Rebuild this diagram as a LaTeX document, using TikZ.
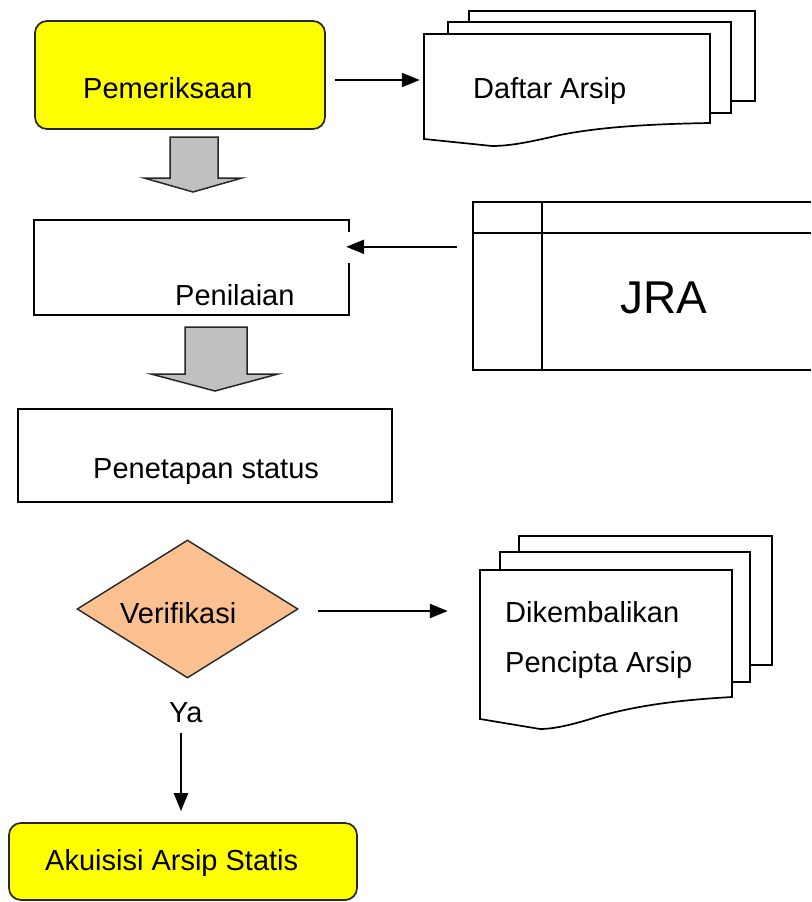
\documentclass[tikz,border=0pt]{standalone}
\usepackage{fontspec}
\setmainfont{Liberation Sans}
\usetikzlibrary{arrows.meta,shapes.geometric,calc}
\definecolor{boxyellow}{RGB}{255,255,0}
\definecolor{blockgray}{RGB}{192,192,192}
\definecolor{peach}{RGB}{250,192,143}
\begin{document}
\begin{tikzpicture}[x=1pt,y=-1pt,
  lbl/.style={font=\fontsize{29}{33}\selectfont, inner sep=0pt, anchor=base west},
  arr/.style={line width=2.2pt, -{Triangle[length=18pt,width=14pt]}},
  outline/.style={line width=1.7pt, line join=miter},
  blockarrow/.style={fill=blockgray, draw=black!85, line width=1.5pt, line join=miter},
  roundbox/.style={rectangle, rounded corners=12pt, draw=black!85, fill=boxyellow, line width=1.7pt, inner sep=0pt},
  area/.style={rectangle, draw=none, inner sep=0pt}]
\useasboundingbox (0,0) rectangle (811,902);

% Pemeriksaan
\node[roundbox, minimum width=290pt, minimum height=108pt] (pem) at (180,75) {};
\node[lbl] (pemt) at (83,98) {Pemeriksaan};

% Daftar Arsip documents
\node[area, minimum width=286pt, minimum height=105pt] (daftar) at (567,86.5) {};
\draw[outline] (469,22) -- (469,11) -- (755,11) -- (755,101) -- (731,101);
\draw[outline] (448,34) -- (448,22) -- (731,22) -- (731,113) -- (710,113);
\draw[outline, fill=white] (424,34) -- (710,34) -- (710,123)
   .. controls (650,124) and (600,127) .. (560,135)
   .. controls (530,142) and (510,146) .. (492,146) -- (424,139) -- cycle;
\node[lbl] (daftart) at (473,98) {Daftar Arsip};
\draw[arr] ($(pem.east)+(9,5)$) -- ($(daftar.west)+(-4,-6.5)$);

% block arrow 1
\draw[blockarrow] (170,137) -- (218,137) -- (218,178) -- (242,178) -- (193,192) -- (144,178) -- (170,178) -- cycle;

% Penilaian
\node[area, minimum width=315pt, minimum height=95pt] (pen) at (191.5,267.5) {};
\draw[outline] ($(pen.north east)+(0,12)$) -- (pen.north east) -- (pen.north west) -- (pen.south west) -- (pen.south east) -- ($(pen.south east)+(0,-52)$);
\node[lbl] (pent) at (175,305) {Penilaian};

% JRA table
\node[area, minimum width=338pt, minimum height=168pt] (jra) at (642,286) {};
\draw[outline] (811,202) -- (473,202) -- (473,370) -- (811,370);
\draw[outline] (473,233) -- (811,233);
\draw[outline] (542,202) -- (542,370);
\node[lbl, font=\fontsize{46}{50}\selectfont] (jrat) at (620,313) {JRA};
\draw[arr] ($(jra.north west)+(-16,45)$) -- ($(pen.north east)+(-3,27)$);

% block arrow 2
\draw[blockarrow] (185,327) -- (247,327) -- (247,374) -- (278,374) -- (215,391) -- (151,374) -- (185,374) -- cycle;

% Penetapan status
\node[rectangle, draw, line width=1.7pt, minimum width=374pt, minimum height=93pt] (pst) at (205,455.5) {};
\node[lbl] (pstt) at (93,478) {Penetapan status};

% Verifikasi
\node[diamond, draw=black!85, fill=peach, line width=1.4pt, inner sep=0pt, minimum width=221pt, minimum height=138pt] (ver) at (187.5,609) {};
\node[lbl] (vert) at (120,623) {Verifikasi};

% Dikembalikan documents
\node[area, minimum width=252pt, minimum height=149pt] (dik) at (606,644.5) {};
\draw[outline] (519,552) -- (519,536) -- (772,536) -- (772,665) -- (750,665);
\draw[outline] (500,570) -- (500,552) -- (750,552) -- (750,682) -- (732,682);
\draw[outline, fill=white] (480,570) -- (732,570) -- (732,697)
   .. controls (680,700) and (640,705) .. (600,716)
   .. controls (575,724) and (555,729) .. (540,729) -- (480,719) -- cycle;
\node[lbl] (dikt1) at (505,622) {Dikembalikan};
\node[lbl] (dikt2) at (505,672) {Pencipta Arsip};
\draw[arr] ($(ver.east)+(19,2)$) -- ($(dik.west)+(-32,-33.5)$);

% Ya
\node[lbl] (ya) at (169,722) {Ya};

% Akuisisi
\node[roundbox, minimum width=348pt, minimum height=77pt] (akui) at (183,861.5) {};
\node[lbl] (akuit) at (45,870) {Akuisisi Arsip Statis};
\coordinate (ystart) at ($(ya.base west)+(12,11)$);
\draw[arr] (ystart) -- ($(akui.north)+(-2,-11)$);
\end{tikzpicture}
\end{document}
